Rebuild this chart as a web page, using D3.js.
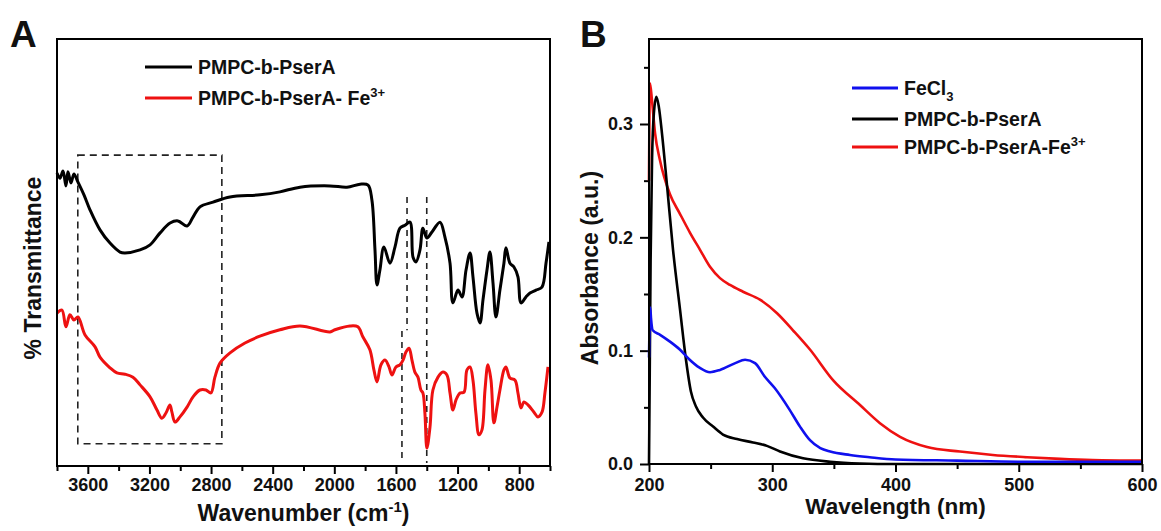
<!DOCTYPE html>
<html lang="en">
<head>
<meta charset="UTF-8">
<title>FTIR and UV-vis spectra</title>
<script src="https://d3js.org/d3.v7.min.js"></script>
<style>
  body { margin: 0; background: #fff; }
  text { font-family: Arial, "Liberation Sans", sans-serif; font-weight: bold; fill: #111; }
</style>
</head>
<body>
<div id="chart"></div>
<script>
// ---- data: panel A (FTIR), wavenumber (cm-1) vs transmittance (arb.) ----
const ftirTicks = [3600, 3200, 2800, 2400, 2000, 1600, 1200, 800];
const ftirMinorTicks = [3800, 3400, 3000, 2600, 2200, 1800, 1400, 1000, 600];

const polyWn = [3800,3781,3761,3742,3729,3709,3690,3664,3625,3586,3521,3456,3391,3359,3261,3196,3131,3066,
  3015,2956,2917,2872,2787,2677,2482,2353,2223,2028,1918,1833,1781,1756,1736,1723,1704,1678,1639,1606,
  1574,1541,1509,1489,1470,1444,1425,1399,1366,1314,1282,1249,1230,1197,1171,1145,1119,1100,1074,1054,
  1035,1009,990,970,951,925,899,886,860,834,808,788,756,730,691,652,626,607];
const polyT = [68.6,67.4,69.1,65.6,68.9,66.3,68.4,66.5,63.5,60.0,55.3,52.2,50.1,49.9,50.6,51.8,54.6,56.9,
  57.4,56.2,58.3,60.7,61.8,63.0,63.5,64.2,65.3,65.6,65.3,66.0,65.8,62.3,50.6,42.4,45.9,51.3,47.5,51.3,
  55.7,56.4,57.1,48.9,47.8,50.6,55.7,53.4,54.8,57.1,53.6,47.5,38.2,41.2,39.6,45.9,49.9,44.3,35.8,33.5,
  38.9,45.9,50.1,42.9,34.9,41.2,47.5,51.1,47.5,46.6,44.3,38.2,39.6,40.5,41.2,41.9,47.5,52.5];

const feWn = [3800,3768,3742,3716,3690,3664,3618,3553,3521,3456,3411,3359,3307,3261,3196,3151,3119,3093,3067,3054,
  3034,3002,2956,2917,2872,2833,2801,2775,2742,2677,2580,2483,2353,2223,2028,1996,1898,1847,1814,1769,
  1743,1723,1697,1671,1645,1626,1600,1574,1554,1535,1515,1496,1477,1457,1438,1425,1412,1399,1379,1360,
  1327,1295,1269,1249,1230,1210,1184,1158,1139,1119,1100,1081,1061,1042,1022,1003,983,964,944,925,
  899,886,860,827,808,788,769,743,704,678,652,633,613];
const feT = [35.8,36.5,32.6,35.4,34.2,34.9,30.7,27.9,25.5,23.0,21.8,21.5,20.8,19.0,16.2,13.1,11.2,12.4,14.3,12.6,
  10.3,11.5,13.8,16.2,17.8,17.8,17.1,20.8,24.1,26.5,28.8,30.4,31.9,32.8,31.4,31.9,32.8,32.6,30.2,27.2,
  22.5,19.7,23.7,24.8,23.2,21.3,23.2,23.7,24.8,26.7,27.6,24.8,22.0,20.8,17.8,17.1,12.4,4.2,9.1,17.8,
  20.8,22.0,21.3,17.1,13.1,15.5,17.1,17.3,22.5,23.2,20.1,12.4,7.3,8.4,17.8,23.7,20.1,10.1,13.8,17.8,
  22.5,23.2,20.6,20.1,17.1,13.6,15.0,14.3,12.6,11.5,12.6,17.1,23.2];

// highlighted region and marker lines (wavenumber / transmittance)
const boxWn = [3665, 2730];
const boxT = [72.8, 5.2];
const markWn = [1528, 1561, 1400];
const markTop = [63.0, 31.6, 63.0];
const markBottom = [31.8, 0.7, 0.7];

// ---- data: panel B (UV-vis), wavelength (nm) vs absorbance ----
const uvTicksX = [200, 300, 400, 500, 600];
const uvMinorX = [250, 350, 450, 550];
const uvTicksY = [0, 0.1, 0.2, 0.3];
const uvMinorY = [0.05, 0.15, 0.25, 0.35];

const fecl3Wl = [200,201,201.6,203,209,217,225,233,241,249.5,257.6,270,278,286,294,302,314,322.5,330.6,339,347,363,379,400,450,500,550,600];
const fecl3Abs = [0.094,0.138,0.129,0.118,0.114,0.108,0.101,0.092,0.085,0.081,0.083,0.089,0.092,0.089,0.077,0.067,0.048,0.033,0.021,0.014,0.011,0.008,0.006,0.004,0.003,0.002,0.002,0.002];

const polyWl = [200,200.6,201.3,202.5,204,206,208,210.5,214.6,219.5,225.2,230,234,238,243.8,252,260,271.4,284.4,295.7,306.3,325,347,371,400,600];
const polyAbs = [0,0.08,0.18,0.27,0.31,0.324,0.315,0.292,0.246,0.189,0.136,0.092,0.064,0.051,0.041,0.033,0.026,0.022,0.019,0.016,0.011,0.005,0.002,0.0005,0,0];

const complexWl = [200,200.8,202.4,204.9,208.9,217,225,233.3,241.4,249.5,257.6,265.7,276.3,290,303.9,316.8,330.6,349.3,371.2,387.4,403.7,425.6,452.3,479,506.7,533.5,560,600];
const complexAbs = [0.25,0.336,0.321,0.292,0.268,0.238,0.221,0.204,0.189,0.174,0.164,0.158,0.152,0.145,0.133,0.118,0.101,0.074,0.052,0.036,0.024,0.015,0.011,0.008,0.006,0.0045,0.0035,0.003];

const zip = (xs, ys) => xs.map((v, i) => [v, ys[i]]);

const svg = d3.select("#chart").append("svg")
  .attr("width", 1161)
  .attr("height", 531);

// ================= Panel A =================
const A = {left: 57, top: 39, right: 550, bottom: 466};
const xA = d3.scaleLinear().domain([3800, 600]).range([A.left, A.right]);
const yA = d3.scaleLinear().domain([0, 100]).range([A.bottom, A.top]);

svg.append("g").attr("transform", `translate(0,${A.bottom})`)
  .call(d3.axisBottom(xA).tickValues(ftirMinorTicks).tickSize(5).tickFormat(""));
svg.append("g").attr("transform", `translate(0,${A.bottom})`)
  .call(d3.axisBottom(xA).tickValues(ftirTicks).tickSize(8).tickPadding(4.2).tickFormat(d3.format("d")));
svg.selectAll(".domain").remove();

const lineA = d3.line().x(d => xA(d[0])).y(d => yA(d[1])).curve(d3.curveCatmullRom.alpha(0.5));

// dashed box + markers
svg.append("rect")
  .attr("x", xA(boxWn[0])).attr("y", yA(boxT[0]))
  .attr("width", xA(boxWn[1]) - xA(boxWn[0]))
  .attr("height", yA(boxT[1]) - yA(boxT[0]))
  .attr("fill", "none").attr("stroke", "#222").attr("stroke-width", 1.6)
  .attr("stroke-dasharray", "7,5");
markWn.forEach((w, i) => {
  svg.append("line")
    .attr("x1", xA(w)).attr("x2", xA(w))
    .attr("y1", yA(markTop[i])).attr("y2", yA(markBottom[i]))
    .attr("stroke", "#222").attr("stroke-width", 1.6).attr("stroke-dasharray", "6,5");
});

svg.append("path").datum(zip(polyWn, polyT))
  .attr("d", lineA).attr("fill", "none").attr("stroke", "#000").attr("stroke-width", 3)
  .attr("stroke-linejoin", "round");
svg.append("path").datum(zip(feWn, feT))
  .attr("d", lineA).attr("fill", "none").attr("stroke", "#ee1111").attr("stroke-width", 3)
  .attr("stroke-linejoin", "round");

svg.append("rect")
  .attr("x", A.left).attr("y", A.top)
  .attr("width", A.right - A.left).attr("height", A.bottom - A.top)
  .attr("fill", "none").attr("stroke", "#000").attr("stroke-width", 2);

// ================= Panel B =================
const B = {left: 649, top: 39, right: 1142, bottom: 464};
const xB = d3.scaleLinear().domain([200, 600]).range([B.left, B.right]);
const yB = d3.scaleLinear().domain([0, 0.375]).range([B.bottom, B.top]);

svg.append("g").attr("transform", `translate(0,${B.bottom})`)
  .call(d3.axisBottom(xB).tickValues(uvMinorX).tickSize(5).tickFormat(""));
svg.append("g").attr("transform", `translate(0,${B.bottom})`)
  .call(d3.axisBottom(xB).tickValues(uvTicksX).tickSize(8).tickPadding(6.2).tickFormat(d3.format("d")));
svg.append("g").attr("transform", `translate(${B.left},0)`)
  .call(d3.axisLeft(yB).tickValues(uvMinorY).tickSize(5).tickFormat(""));
svg.append("g").attr("transform", `translate(${B.left},0)`)
  .call(d3.axisLeft(yB).tickValues(uvTicksY).tickSize(9).tickPadding(7).tickFormat(d3.format(".1f")));
svg.selectAll(".domain").remove();

const lineB = d3.line().x(d => xB(d[0])).y(d => yB(d[1])).curve(d3.curveMonotoneX);

svg.append("path").datum(zip(complexWl, complexAbs))
  .attr("d", lineB).attr("fill", "none").attr("stroke", "#ee1111").attr("stroke-width", 2.6);
svg.append("path").datum(zip(polyWl, polyAbs))
  .attr("d", lineB).attr("fill", "none").attr("stroke", "#000").attr("stroke-width", 2.6);
svg.append("path").datum(zip(fecl3Wl, fecl3Abs))
  .attr("d", lineB).attr("fill", "none").attr("stroke", "#1010ee").attr("stroke-width", 2.6);

svg.append("rect")
  .attr("x", B.left).attr("y", B.top)
  .attr("width", B.right - B.left).attr("height", B.bottom - B.top)
  .attr("fill", "none").attr("stroke", "#000").attr("stroke-width", 2);

// tick styling
svg.selectAll(".tick line").attr("stroke", "#000").attr("stroke-width", 2);
svg.selectAll(".tick text")
  .attr("fill", "#111")
  .style("font-size", "18px")
  .style("font-family", "Arial, 'Liberation Sans', sans-serif")
  .style("font-weight", "bold");

// ================= Labels =================
svg.append("text").attr("x", 10).attr("y", 47).style("font-size", "37px").text("A");
svg.append("text").attr("x", 580).attr("y", 47).style("font-size", "37px").text("B");

// axis titles
const tA = svg.append("text").attr("x", (A.left + A.right) / 2).attr("y", 521)
  .attr("text-anchor", "middle").style("font-size", "23px");
tA.append("tspan").text("Wavenumber (cm");
tA.append("tspan").attr("dy", -9).style("font-size", "15px").text("-1");
tA.append("tspan").attr("dy", 9).text(")");

svg.append("text").attr("transform", "translate(41,268) rotate(-90)")
  .attr("text-anchor", "middle").style("font-size", "23px").text("% Transmittance");

svg.append("text").attr("x", (B.left + B.right) / 2).attr("y", 514)
  .attr("text-anchor", "middle").style("font-size", "22.5px").text("Wavelength (nm)");

svg.append("text").attr("transform", "translate(598,268) rotate(-90)")
  .attr("text-anchor", "middle").style("font-size", "23px").text("Absorbance (a.u.)");

// legends
function legendItem(x1, x2, y, color, parts) {
  svg.append("line").attr("x1", x1).attr("x2", x2).attr("y1", y).attr("y2", y)
    .attr("stroke", color).attr("stroke-width", 3);
  const t = svg.append("text").attr("x", x2 + 6).attr("y", y + 7).style("font-size", "19.5px");
  parts.forEach(p => {
    const s = t.append("tspan").text(p.text);
    if (p.sup) s.attr("dy", -8).style("font-size", "13px");
    if (p.sub) s.attr("dy", 6).style("font-size", "13px");
  });
}
legendItem(145, 192, 67, "#000", [{text: "PMPC-b-PserA"}]);
legendItem(145, 192, 98, "#ee1111", [{text: "PMPC-b-PserA- Fe"}, {text: "3+", sup: true}]);

legendItem(852, 898, 88, "#1010ee", [{text: "FeCl"}, {text: "3", sub: true}]);
legendItem(852, 898, 119, "#000", [{text: "PMPC-b-PserA"}]);
legendItem(852, 898, 147, "#ee1111", [{text: "PMPC-b-PserA-Fe"}, {text: "3+", sup: true}]);
</script>
</body>
</html>
